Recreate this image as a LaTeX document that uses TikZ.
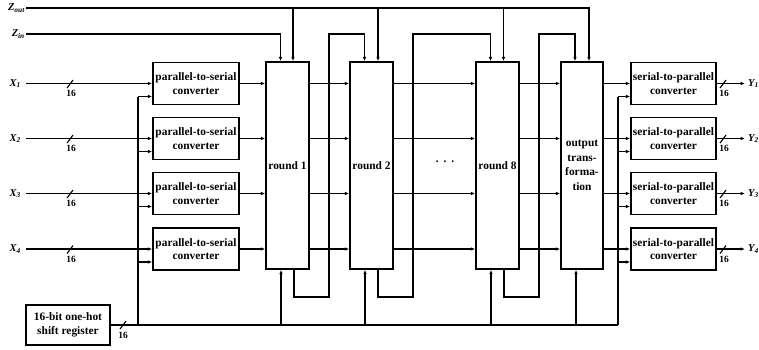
\documentclass[tikz,border=0pt]{standalone}
\usepackage{fontspec}
\setmainfont{Liberation Serif}
\usetikzlibrary{arrows.meta}
\tikzset{
  wire/.style={line width=1.1pt},
  arr/.style={wire,-{Latex[length=4.5pt,width=3.6pt]}},
  blk/.style={draw,line width=1.4pt,inner sep=0.5pt,align=center,
    font=\bfseries\fontsize{11.4}{13.5}\selectfont},
  wide/.style={blk,minimum width=86pt,minimum height=42pt},
  tall/.style={blk,minimum width=43pt,minimum height=207pt},
  lab/.style={font=\bfseries\itshape\fontsize{10.5}{12}\selectfont,inner sep=1pt},
  num/.style={font=\bfseries\fontsize{9.5}{10}\selectfont,inner sep=0pt},
}
\begin{document}
\begin{tikzpicture}[x=1pt,y=-1pt]
\useasboundingbox (0,0) rectangle (759,349);

% tall boxes
\node[tall] (r1) at (287.5,165.5) {round 1};
\node[tall] (r2) at (371.5,165.5) {round 2};
\node[tall] (r8) at (497.5,165.5) {round 8};
\node[tall,minimum width=42pt,font=\bfseries\fontsize{11.4}{14.5}\selectfont] (ot) at (582,165.5) {output\\trans-\\forma-\\tion};
\node[font=\bfseries\fontsize{11.4}{13}\selectfont] (dots) at (445,163) {·\hspace{4pt}·\hspace{4pt}·};

% shift register
\node[blk,minimum width=84pt,minimum height=40pt] (sr) at (68,325) {16-bit one-hot\\shift register};

% Z lines
\node[lab,anchor=east] (zo) at (26,8) {Z\textsubscript{out}};
\node[lab,anchor=east] (zi) at (26,34) {Z\textsubscript{in}};
\draw[arr] (zo.east) -| ([xshift=7pt]ot.north);
\draw[arr] ([xshift=5.5pt]r1.north |- zo.east) -- ([xshift=5.5pt]r1.north);
\draw[arr] ([xshift=6.5pt]r2.north |- zo.east) -- ([xshift=6.5pt]r2.north);
\draw[arr] ([xshift=6pt]r8.north |- zo.east) -- ([xshift=6pt]r8.north);
\draw[arr] (zi.east) -| ([xshift=-7pt]r1.north);

% key loops
\coordinate (k1b) at (329,297); \coordinate (k1t) at (329,34);
\coordinate (k2b) at (413,297); \coordinate (k2t) at (413,34);
\coordinate (k8b) at (539,297); \coordinate (k8t) at (539,34);
\draw[arr] ([xshift=6.5pt]r1.south) |- (k1b) -- (k1t) -| ([xshift=-7pt]r2.north);
\draw[arr] ([xshift=6.5pt]r2.south) |- (k2b) -- (k2t) -| ([xshift=-7pt]r8.north);
\draw[arr] ([xshift=6.5pt]r8.south) |- (k8b) -- (k8t) -| ([xshift=-7pt]ot.north);

% control bus
\coordinate (lb) at (138,325);
\coordinate (rb) at (618,325);
\draw[wire] (sr.east) -- (rb);
\draw[wire] (120,329) -- (126,321);
\node[num] at (123,335) {16};
\draw[arr] ([xshift=-6.5pt]r1.south |- lb) -- ([xshift=-6.5pt]r1.south);
\draw[arr] ([xshift=-6.5pt]r2.south |- lb) -- ([xshift=-6.5pt]r2.south);
\draw[arr] ([xshift=-6.5pt]r8.south |- lb) -- ([xshift=-6.5pt]r8.south);
\draw[arr] ([xshift=-6pt]ot.south |- lb) -- ([xshift=-6pt]ot.south);

% rows
\foreach \i/\y in {1/83.5,2/138.5,3/193.5,4/249}{
  \node[wide] (p\i) at (196,\y) {parallel-to-serial\\converter};
  \node[wide,minimum width=85pt] (s\i) at (673.5,\y) {serial-to-parallel\\converter};
  \node[lab,anchor=east] (x\i) at (22,\y) {X\textsubscript{\i}};
  \node[lab,anchor=west] (y\i) at (747,\y) {Y\textsubscript{\i}};
  \draw[arr] (x\i.east) ++(4,0) -- (p\i.west);
  \draw[wire] (67,\y+4.5) -- (73,\y-3.5);
  \node[num] at (71,\y+10) {16};
  \draw[arr] (s\i.east) -- ([xshift=-2pt]y\i.west);
  \draw[wire] (720,\y+4.5) -- (726,\y-3.5);
  \node[num] at (724,\y+10) {16};
  \draw[arr] (p\i.east) -- (p\i.east -| r1.west);
  \draw[arr] (p\i.east -| r1.east) -- (p\i.east -| r2.west);
  \draw[arr] (p\i.east -| r2.east) -- (p\i.east -| r8.west);
  \draw[arr] (p\i.east -| r8.east) -- (p\i.east -| ot.west);
  \draw[arr] (p\i.east -| ot.east) -- (s\i.west);
  \coordinate (lc\i) at (138,\y+13);
  \coordinate (rc\i) at (618,\y+13);
  \draw[arr] (lc\i) -- (lc\i -| p\i.west);
  \draw[arr] (rc\i) -- (rc\i -| s\i.west);
}
\draw[wire] (lc1) -- (lb);
\draw[wire] (rc1) -- (rb);
\end{tikzpicture}
\end{document}
